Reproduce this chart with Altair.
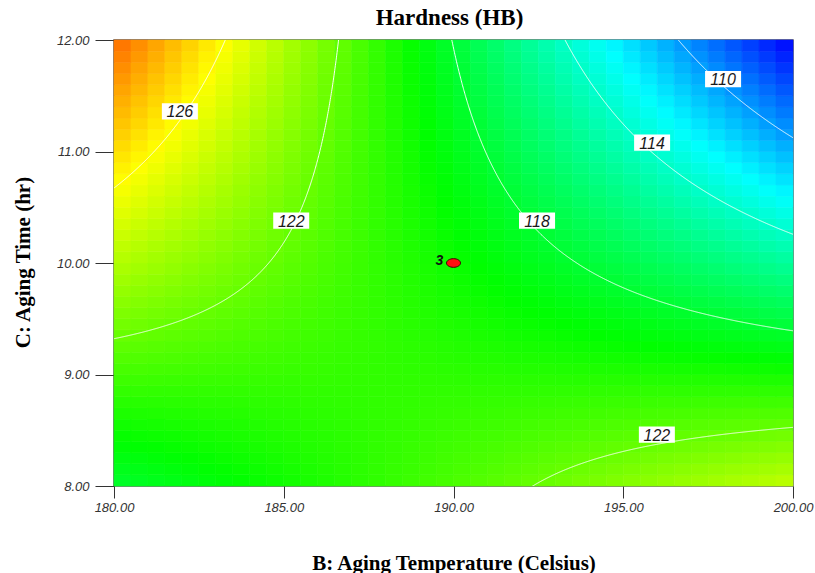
import numpy as np
import pandas as pd
import altair as alt

# Factor ranges in actual units
temp_range = [180.0, 200.0]   # B: Aging Temperature (Celsius)
time_range = [8.0, 12.0]      # C: Aging Time (hr)

# Fitted 2FI response-surface model in coded factors:
# Hardness = b0 + b1*B + b2*C + b12*B*C
model_terms = ["Intercept", "B", "C", "BC"]
model_coefs = [119.6, -4.41, -1.66, -7.58]

# Contour levels and where their labels sit
contour_levels = [110, 114, 118, 122, 126]
label_temp = [181.94, 185.22, 192.46, 195.85, 197.94, 195.99]
label_time = [11.36, 10.38, 10.38, 11.08, 11.65, 8.46]
label_text = ["126", "122", "118", "114", "110", "122"]

# Design point (centre point, replicated)
design_temp = [190.0]
design_time = [10.0]
design_reps = ["3"]

x_ticks = [180, 185, 190, 195, 200]
y_ticks = [8, 9, 10, 11, 12]

# Blue-cyan-green-yellow-red colour ramp
color_stops = [106.0, 112.6, 119.3, 126.0, 132.6]
color_range = ["#0000ff", "#00ffff", "#00ff00", "#ffff00", "#ff0000"]

n_cells = 40

b0, b1, b2, b12 = model_coefs
t_mid = (temp_range[0] + temp_range[1]) / 2
t_half = (temp_range[1] - temp_range[0]) / 2
h_mid = (time_range[0] + time_range[1]) / 2
h_half = (time_range[1] - time_range[0]) / 2


def predict(u, v):
    return b0 + b1 * u + b2 * v + b12 * u * v


# Surface cells
t_edges = np.linspace(temp_range[0], temp_range[1], n_cells + 1)
h_edges = np.linspace(time_range[0], time_range[1], n_cells + 1)
cells = []
for i in range(n_cells):
    for j in range(n_cells):
        tc = (t_edges[i] + t_edges[i + 1]) / 2
        hc = (h_edges[j] + h_edges[j + 1]) / 2
        cells.append({
            "t0": t_edges[i], "t1": t_edges[i + 1],
            "h0": h_edges[j], "h1": h_edges[j + 1],
            "hardness": predict((tc - t_mid) / t_half, (hc - h_mid) / h_half),
        })
cells = pd.DataFrame(cells)

# Contour lines: solve the model for C at each B
u = np.linspace(-1, 1, 2001)
rows = []
with np.errstate(divide="ignore", invalid="ignore"):
    for level in contour_levels:
        den = b2 + b12 * u
        v = (level - b0 - b1 * u) / den
        for side, mask in (("a", den > 0), ("b", den < 0)):
            m = mask & (np.abs(v) <= 1.6)
            for k, (uu, vv) in enumerate(zip(u[m], v[m])):
                rows.append({
                    "key": f"{level}-{side}", "k": k,
                    "temp": t_mid + uu * t_half, "time": h_mid + vv * h_half,
                })
contours = pd.DataFrame(rows)

labels = pd.DataFrame({"temp": label_temp, "time": label_time, "text": label_text})
design = pd.DataFrame({"temp": design_temp, "time": design_time, "reps": design_reps})

x_scale = alt.Scale(domain=temp_range, nice=False, zero=False)
y_scale = alt.Scale(domain=time_range, nice=False, zero=False)

x_axis = alt.Axis(
    values=x_ticks, format=".2f", grid=False, domain=False,
    tickSize=12, tickColor="#333333", tickWidth=1,
    labelFont="Liberation Sans", labelFontStyle="italic", labelFontSize=13,
    labelColor="#333333", labelPadding=3, labelFlush=False,
    title="B: Aging Temperature (Celsius)", titleFont="Liberation Serif",
    titleFontSize=21, titleFontWeight="bold", titleColor="black",
    titleY=77, titleBaseline="middle",
)
y_axis = alt.Axis(
    values=y_ticks, format=".2f", grid=False, domain=False,
    tickSize=19, tickColor="#333333", tickWidth=1,
    labelFont="Liberation Sans", labelFontStyle="italic", labelFontSize=13,
    labelColor="#333333", labelPadding=6, labelFlush=False,
    title="C: Aging Time (hr)", titleFont="Liberation Serif",
    titleFontSize=21, titleFontWeight="bold", titleColor="black",
    titleX=-91, titleY=222, titleBaseline="middle",
)

X = lambda f: alt.X(f, type="quantitative", scale=x_scale, axis=x_axis)
Y = lambda f: alt.Y(f, type="quantitative", scale=y_scale, axis=y_axis)

color_scale = alt.Scale(domain=color_stops, range=color_range, interpolate="rgb", clamp=True)

surface = alt.Chart(cells).mark_rect(strokeWidth=0.6).encode(
    x=X("t0"), x2="t1", y=Y("h0"), y2="h1",
    fill=alt.Color("hardness:Q", scale=color_scale, legend=None),
    stroke=alt.Color("hardness:Q", scale=color_scale, legend=None),
)

lines = alt.Chart(contours).mark_line(
    color="white", strokeWidth=1, opacity=0.95, clip=True
).encode(
    x=X("temp"), y=Y("time"), detail="key:N", order="k:Q",
)

box_shape = "M-1,-0.45L1,-0.45L1,0.45L-1,0.45Z"
label_boxes = alt.Chart(labels).mark_point(
    shape=box_shape, size=1296, filled=True, fill="white", opacity=1, strokeWidth=0
).encode(x=X("temp"), y=Y("time"))

label_texts = alt.Chart(labels).mark_text(
    font="Liberation Sans", fontStyle="italic", fontSize=16, color="#1a1a1a",
    baseline="middle", align="center", dy=1,
).encode(x=X("temp"), y=Y("time"), text="text:N")

ellipse = "M-1,0A1,0.62,0,1,0,1,0A1,0.62,0,1,0,-1,0Z"
design_pts = alt.Chart(design).mark_point(
    shape=ellipse, size=196, filled=True, fill="#ff1010", stroke="#400000",
    strokeWidth=1, opacity=1,
).encode(x=X("temp"), y=Y("time"))

design_lbl = alt.Chart(design).mark_text(
    font="Liberation Sans", fontStyle="italic", fontWeight="bold", fontSize=14,
    color="#111111", dx=-14, dy=-2, baseline="middle", align="center",
).encode(x=X("temp"), y=Y("time"), text="reps:N")

chart = alt.layer(
    surface, lines, label_boxes, label_texts, design_pts, design_lbl
).properties(
    width=679, height=446,
    title=alt.TitleParams(
        "Hardness (HB)", font="Liberation Serif", fontSize=23, fontWeight="bold",
        color="black", anchor="middle", offset=4, dx=-4,
    ),
    autosize=alt.AutoSizeParams(type="none"),
    padding={"left": 114, "top": 40, "right": 22, "bottom": 87},
    background="white",
).configure_view(stroke="#555555", strokeWidth=1.5)

chart.save("out.html", embed_options={"renderer": "svg", "actions": False})
